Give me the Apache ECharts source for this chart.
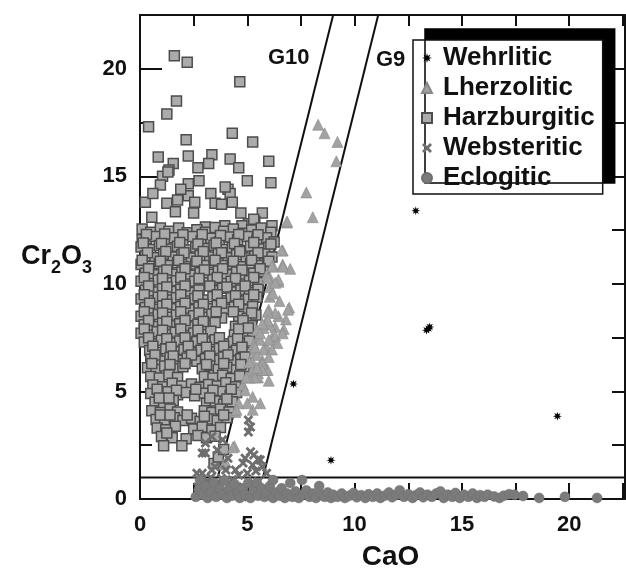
<!DOCTYPE html>
<html>
<head>
<meta charset="utf-8">
<script src="https://cdn.jsdelivr.net/npm/echarts@6/dist/echarts.min.js"></script>
<style>
  html, body { margin: 0; padding: 0; background: #fff; }
  #garnet { width: 626px; height: 570px; }
</style>
</head>
<body>
<div id="garnet"></div>
<script>
var FONT = '"Liberation Sans", Arial, sans-serif';

// CaO (wt%), Cr2O3 (wt%)
var wehrlitic = [[7.15, 5.35], [8.9, 1.8], [13.35, 7.85], [13.5, 8.0], [13.45, 7.92], [19.45, 3.85], [12.85, 13.4]];

var lherzolitic = [
  [8.3, 17.4], [8.6, 17.0], [9.2, 16.6], [9.15, 15.7], [7.75, 14.25], [8.05, 13.1], [6.85, 12.85],
  [6.65, 11.55], [6.65, 10.9], [7.0, 10.7], [6.2, 10.85], [6.45, 10.1], [6.05, 10.3], [6.95, 8.9],
  [6.8, 8.35], [6.45, 8.5], [6.7, 7.9], [6.3, 8.0], [6.05, 9.4], [6.0, 8.8], [5.85, 8.2], [6.15, 7.5],
  [6.4, 7.25], [5.9, 7.05], [5.5, 7.5], [5.7, 6.45], [5.3, 6.8], [5.85, 6.0], [5.5, 5.85], [5.15, 5.65],
  [6.0, 5.5], [4.8, 5.3], [4.9, 5.05], [5.6, 4.45], [5.25, 4.75], [4.6, 4.45], [4.45, 4.05], [5.25, 4.15],
  [5.5, 5.65], [5.95, 6.0], [4.4, 2.45], [3.9, 1.6], [5.0, 4.45], [4.5, 4.15], [4.0, 1.7], [4.33, 2.4],
  [6.45, 10.2], [6.05, 9.85], [6.9, 8.8], [6.3, 8.65], [5.95, 8.7], [6.05, 8.1], [5.75, 7.95], [5.45, 7.85],
  [6.3, 7.6], [6.65, 7.7], [6.0, 7.4], [5.6, 7.4], [5.3, 7.2], [5.75, 6.95], [6.15, 6.95], [5.45, 6.7],
  [6.0, 6.6], [5.25, 6.35], [5.7, 6.3], [5.25, 6.0], [5.7, 6.0], [5.35, 5.65], [5.05, 5.65],
  [6.85, 12.9], [6.6, 11.55], [6.65, 10.8], [6.15, 10.8], [5.9, 10.4], [5.95, 10.25], [6.3, 10.05],
  [6.5, 9.2], [6.2, 9.55], [5.95, 8.3], [5.7, 8.15], [5.6, 7.7], [5.35, 7.05], [5.45, 6.1], [5.1, 6.35],
  [4.95, 5.65]
];

var harzburgitic = [
  [1.6, 20.6], [2.2, 20.3], [4.65, 19.4], [1.7, 18.5], [1.25, 17.9], [0.4, 17.3], [2.15, 16.7], [4.3, 17.0],
  [5.25, 16.6], [0.85, 15.9], [1.55, 15.6], [2.25, 15.95], [3.35, 16.0], [2.7, 15.4], [3.2, 15.6], [4.2, 15.8],
  [4.6, 15.4], [6.0, 15.7], [1.35, 15.3], [1.05, 15.0], [6.1, 14.7], [5.0, 14.8], [2.75, 14.8], [2.25, 14.65],
  [0.95, 14.6], [1.3, 15.2], [3.3, 14.2], [4.1, 14.4], [4.2, 14.2], [3.97, 14.5], [0.25, 13.8], [1.25, 13.75],
  [1.75, 13.9], [2.25, 14.1], [2.55, 13.8], [3.5, 13.75], [3.8, 13.7], [4.3, 13.8], [5.7, 13.3], [5.05, 12.8],
  [5.35, 12.9], [6.15, 12.7], [4.75, 12.7], [3.95, 12.7], [3.05, 12.65], [2.5, 13.3], [1.65, 13.35], [0.55, 13.1],
  [0.1, 12.05], [5.3, 13.0], [4.7, 13.3], [0.6, 14.2], [1.9, 14.4],
  [0.1, 12.55], [0.5, 12.4], [0.95, 12.6], [1.35, 12.45], [1.8, 12.6], [2.2, 12.38], [2.65, 12.52], [3.05, 12.4],
  [3.5, 12.62], [3.9, 12.45], [4.35, 12.55], [4.8, 12.35], [5.2, 12.5], [5.65, 12.6], [6.1, 12.4],
  [0.3, 12.1], [0.7, 12.2], [1.15, 11.98], [1.6, 12.15], [2.0, 12.02], [2.45, 12.2], [2.85, 12.0], [3.3, 12.12],
  [3.7, 11.95], [4.15, 12.18], [4.55, 12.05], [5.0, 12.2], [5.45, 12.0], [5.9, 12.15], [6.25, 11.95],
  [0.05, 11.72], [0.5, 11.6], [0.9, 11.78], [1.35, 11.62], [1.75, 11.75], [2.2, 11.58], [2.6, 11.72], [3.05, 11.65],
  [3.45, 11.8], [3.9, 11.6], [4.3, 11.7], [4.75, 11.55], [5.15, 11.75], [5.6, 11.62], [6.0, 11.7],
  [0.25, 11.3], [0.7, 11.22], [1.1, 11.38], [1.55, 11.25], [1.95, 11.35], [2.4, 11.2], [2.8, 11.32], [3.25, 11.25],
  [3.65, 11.4], [4.1, 11.22], [4.5, 11.35], [4.95, 11.2], [5.35, 11.3], [5.8, 11.4], [6.15, 11.25],
  [0.05, 10.9], [0.45, 10.82], [0.9, 10.95], [1.3, 10.85], [1.75, 10.98], [2.15, 10.8], [2.6, 10.92], [3.0, 10.85],
  [3.45, 11.0], [3.85, 10.85], [4.3, 10.92], [4.7, 10.8], [5.15, 10.95], [5.55, 10.85], [5.95, 10.9],
  [0.25, 10.5], [0.65, 10.42], [1.1, 10.58], [1.5, 10.45], [1.95, 10.55], [2.35, 10.4], [2.8, 10.52], [3.2, 10.45],
  [3.65, 10.6], [4.05, 10.42], [4.5, 10.55], [4.9, 10.4], [5.3, 10.5], [5.75, 10.58],
  [0.05, 10.12], [0.45, 10.02], [0.85, 10.18], [1.3, 10.05], [1.7, 10.15], [2.15, 10.0], [2.55, 10.12], [3.0, 10.05],
  [3.4, 10.2], [3.85, 10.02], [4.25, 10.12], [4.7, 10.0], [5.1, 10.15], [5.5, 10.05],
  [0.25, 9.7], [0.65, 9.62], [1.05, 9.78], [1.5, 9.65], [1.9, 9.75], [2.35, 9.6], [2.75, 9.72], [3.45, 9.68],
  [3.85, 9.8], [4.3, 9.62], [4.7, 9.72], [5.1, 9.6], [5.5, 9.75],
  [0.05, 9.3], [0.45, 9.22], [0.85, 9.38], [1.3, 9.25], [1.7, 9.35], [2.1, 9.2], [2.55, 9.32], [2.95, 9.25],
  [3.4, 9.4], [3.8, 9.22], [4.25, 9.35], [4.65, 9.2], [5.05, 9.3], [5.45, 9.38],
  [0.25, 8.9], [0.65, 8.82], [1.05, 8.98], [1.5, 8.85], [1.9, 8.95], [2.3, 8.8], [2.75, 8.92], [3.15, 8.85],
  [3.6, 9.0], [4.0, 8.82], [4.4, 8.92], [4.85, 8.8], [5.25, 8.95],
  [0.05, 8.5], [0.45, 8.42], [0.85, 8.58], [1.25, 8.45], [1.7, 8.55], [2.1, 8.4], [2.5, 8.52], [2.95, 8.45],
  [3.35, 8.6], [3.8, 8.42], [4.6, 8.5], [5.0, 8.4], [5.4, 8.55],
  [0.2, 8.1], [0.6, 8.02], [1.05, 8.18], [1.45, 8.05], [1.85, 8.15], [2.3, 8.0], [2.7, 8.12], [3.1, 8.05],
  [3.5, 8.2], [4.45, 8.02], [4.8, 8.15], [5.2, 8.05],
  [0.05, 7.7], [0.4, 7.62], [0.8, 7.78], [1.25, 7.65], [1.65, 7.75], [2.05, 7.6], [2.5, 7.72], [2.9, 7.65],
  [3.3, 7.8], [4.4, 7.62], [4.95, 7.72], [5.25, 7.6],
  [0.2, 7.3], [0.6, 7.22], [1.0, 7.38], [1.45, 7.25], [1.85, 7.35], [2.25, 7.2], [2.65, 7.32], [3.05, 7.25],
  [3.5, 7.4], [3.9, 7.22], [4.35, 7.32], [4.75, 7.2], [5.1, 7.35],
  [0.45, 6.9], [0.8, 6.82], [1.2, 6.98], [1.65, 6.85], [2.05, 6.95], [2.45, 6.8], [2.85, 6.92], [3.3, 6.85],
  [3.7, 7.0], [4.1, 6.82], [4.5, 6.92], [4.95, 6.8],
  [0.5, 6.5], [0.95, 6.42], [1.4, 6.58], [1.8, 6.45], [2.2, 6.55], [2.65, 6.4], [3.05, 6.52], [3.45, 6.45],
  [3.9, 6.6], [4.3, 6.42], [4.7, 6.52],
  [0.35, 6.1], [0.75, 6.02], [1.15, 6.18], [1.6, 6.05], [2.0, 6.15], [2.9, 6.05], [3.25, 6.2], [3.65, 6.02],
  [4.05, 6.12], [4.5, 6.0], [4.85, 6.15],
  [0.5, 5.7], [0.9, 5.62], [1.35, 5.78], [1.75, 5.65], [3.0, 5.7], [3.4, 5.62], [3.85, 5.75], [4.25, 5.6], [4.65, 5.72],
  [0.6, 5.3], [1.05, 5.22], [1.5, 5.38], [1.95, 5.25], [2.4, 5.35], [2.8, 5.2], [3.2, 5.32], [3.6, 5.25],
  [4.0, 5.4], [4.45, 5.22],
  [0.5, 4.9], [0.9, 4.82], [1.3, 4.98], [1.75, 4.85], [2.15, 4.95], [2.55, 4.8], [3.0, 4.92], [3.4, 4.85],
  [3.8, 5.0], [4.2, 4.82], [4.5, 4.95],
  [0.7, 4.5], [1.1, 4.42], [1.55, 4.58], [3.1, 4.45], [3.5, 4.55], [3.9, 4.4], [4.3, 4.52],
  [0.55, 4.1], [0.95, 4.02], [1.4, 4.18], [1.75, 4.05], [3.0, 4.1], [3.35, 4.02], [3.75, 4.18], [4.15, 4.05],
  [0.75, 3.7], [1.15, 3.62], [1.6, 3.78], [2.0, 3.65], [2.4, 3.75], [2.8, 3.6], [3.2, 3.72], [3.6, 3.65], [4.05, 3.78],
  [0.8, 3.3], [1.2, 3.22], [1.65, 3.38], [2.5, 3.25], [2.9, 3.35], [3.35, 3.2], [3.75, 3.32],
  [1.0, 2.9], [1.5, 2.85], [2.15, 2.8], [2.7, 2.95], [3.1, 2.85], [3.5, 2.92],
  [1.1, 2.47], [1.95, 2.47], [1.25, 3.07], [3.45, 1.65], [3.65, 1.95], [3.9, 2.3],
  // in-between points of the dense core
  [0.3, 12.3], [1.15, 12.32], [2.0, 12.28], [2.9, 12.3], [3.75, 12.25], [4.6, 12.3], [5.5, 12.28],
  [0.15, 11.9], [1.0, 11.88], [1.85, 11.92], [2.7, 11.85], [3.55, 11.9], [4.4, 11.88], [5.3, 11.92], [6.1, 11.85],
  [0.35, 11.45], [1.2, 11.5], [2.05, 11.45], [2.95, 11.5], [3.8, 11.45], [4.65, 11.5], [5.5, 11.45],
  [0.1, 11.1], [0.95, 11.05], [1.8, 11.1], [2.65, 11.05], [3.5, 11.1], [4.35, 11.05], [5.2, 11.1], [6.0, 11.05],
  [0.4, 10.7], [1.25, 10.65], [2.1, 10.7], [3.0, 10.65], [3.85, 10.7], [4.75, 10.65], [5.6, 10.7],
  [0.2, 10.3], [1.05, 10.25], [1.9, 10.3], [2.75, 10.25], [3.6, 10.3], [4.45, 10.25], [5.3, 10.3],
  [0.4, 9.9], [1.25, 9.85], [2.1, 9.9], [3.25, 9.9], [4.05, 9.85], [4.9, 9.9],
  [0.2, 9.5], [1.05, 9.45], [1.9, 9.5], [2.7, 9.45], [3.6, 9.5], [4.45, 9.45], [5.3, 9.5],
  [0.45, 9.1], [1.25, 9.05], [2.1, 9.1], [2.95, 9.05], [3.8, 9.1], [4.6, 9.05],
  [0.2, 8.7], [1.05, 8.65], [1.9, 8.7], [2.75, 8.65], [3.55, 8.7], [4.35, 8.7], [5.2, 8.65],
  [0.4, 8.3], [1.25, 8.25], [2.1, 8.3], [2.95, 8.25], [4.8, 8.3],
  [0.2, 7.9], [1.05, 7.85], [1.9, 7.9], [2.7, 7.85], [4.6, 7.9], [5.05, 7.95],
  [0.4, 7.5], [1.25, 7.45], [2.1, 7.5], [2.9, 7.45], [3.7, 7.5], [4.55, 7.45],
  [0.6, 7.1], [1.45, 7.05], [2.25, 7.1], [3.1, 7.05], [3.9, 7.1], [4.75, 7.05],
  [0.7, 6.7], [1.55, 6.65], [2.4, 6.7], [3.25, 6.65], [4.1, 6.7], [4.9, 6.6],
  [0.55, 6.3], [1.4, 6.25], [2.1, 6.3], [3.1, 6.25], [3.9, 6.3], [4.7, 6.25],
  [0.8, 5.1], [1.7, 5.05], [2.6, 5.1], [3.4, 5.05], [4.25, 5.1],
  [0.9, 4.7], [1.35, 4.7], [3.25, 4.7], [4.05, 4.65],
  [0.95, 3.9], [1.4, 3.9], [2.2, 3.9], [3.0, 3.85], [3.9, 3.9]
];

var websteritic = [
  [5.05, 3.67], [5.05, 3.12], [5.15, 3.35], [3.05, 2.14], [3.05, 2.6], [3.85, 2.75], [3.35, 2.9], [5.15, 2.2],
  [5.3, 2.05], [4.9, 1.9], [5.5, 1.85], [4.8, 1.67], [5.25, 1.58], [5.7, 1.5], [2.9, 1.2], [3.5, 1.5],
  [3.35, 1.35], [4.0, 1.35], [4.45, 1.35], [2.7, 0.56], [4.8, 0.56], [4.3, 0.9], [3.2, 0.74], [5.05, 0.1],
  [3.6, 2.28], [2.65, 1.2], [2.9, 2.14], [5.6, 1.81], [5.4, 1.3], [4.6, 1.1], [3.8, 0.95], [2.85, 0.85],
  [5.9, 1.2], [3.3, 1.0], [4.1, 1.9], [5.0, 1.2], [3.6, 0.6], [4.3, 0.3], [2.8, 0.3], [5.5, 0.8]
];

var eclogitic = [
  [2.6, 0.1], [2.75, 0.45], [2.8, 0.88], [2.9, 0.2], [3.05, 0.6], [3.15, 0.05], [3.3, 0.35], [3.45, 0.75],
  [3.55, 0.1], [3.7, 0.5], [3.85, 0.2], [3.95, 0.85], [4.05, 0.05], [4.15, 0.45], [4.3, 0.15], [4.4, 0.7],
  [4.55, 0.3], [4.65, 0.05], [4.8, 0.5], [4.9, 0.2], [5.05, 0.75], [5.15, 0.05], [5.3, 0.4], [5.45, 0.74],
  [5.5, 0.15], [5.65, 0.5], [5.8, 0.1], [5.9, 0.3], [6.05, 0.6], [6.2, 0.88], [6.2, 0.05], [6.35, 0.3],
  [6.5, 0.15], [6.6, 0.5], [6.75, 0.05], [6.85, 0.25], [7.0, 0.74], [7.1, 0.1], [7.25, 0.35], [7.4, 0.05],
  [7.55, 0.88], [7.6, 0.2], [7.75, 0.4], [7.9, 0.1], [8.05, 0.25], [8.2, 0.05], [8.35, 0.6], [8.45, 0.2],
  [8.6, 0.1], [8.75, 0.3], [8.9, 0.05], [9.0, 0.2], [9.2, 0.1], [9.4, 0.25], [9.55, 0.05], [9.75, 0.15],
  [9.95, 0.28], [10.1, 0.08], [10.3, 0.18], [10.5, 0.05], [10.65, 0.22], [10.85, 0.1], [11.05, 0.25],
  [11.2, 0.05], [11.4, 0.15], [11.6, 0.3], [11.75, 0.08], [11.95, 0.2], [12.1, 0.4], [12.3, 0.1],
  [12.5, 0.22], [12.7, 0.05], [12.85, 0.18], [13.05, 0.3], [13.2, 0.08], [13.4, 0.2], [13.6, 0.1],
  [13.8, 0.25], [14.0, 0.35], [14.15, 0.05], [14.35, 0.2], [14.55, 0.1], [14.7, 0.28], [14.9, 0.05],
  [15.1, 0.2], [15.3, 0.1], [15.5, 0.25], [15.7, 0.05], [15.85, 0.18], [16.05, 0.1], [16.2, 0.2],
  [16.5, 0.12], [16.75, 0.05], [16.95, 0.15], [17.2, 0.22], [17.45, 0.2], [17.85, 0.14], [18.6, 0.05],
  [19.8, 0.1], [21.3, 0.05]
];

// G10 / G9 divider lines and the 1 wt% Cr2O3 line
var g10Line = [[3.625, 1], [9.0, 22.5]];
var g9Line = [[5.73, 1], [11.1, 22.5]];
var crLimit = [[0, 1], [22.6, 1]];

var X_MAX = 22.6, Y_MAX = 22.5;

var chart = echarts.init(document.getElementById('garnet'), null, { renderer: 'canvas' });

var axisLine = { show: true, onZero: false, lineStyle: { color: '#111', width: 2 } };
function tick(len) { return { show: true, inside: true, length: len, lineStyle: { color: '#111', width: 2 } }; }
var labelStyle = { fontSize: 22, fontWeight: 'bold', color: '#111', fontFamily: FONT };
function onlyFives(v) { return v % 5 === 0 ? String(v) : ''; }

function lineSeries(name, data) {
  return {
    name: name, type: 'line', data: data, symbol: 'none', z: 1, silent: true,
    lineStyle: { color: '#111', width: 2 }
  };
}

var option = {
  animation: false,
  backgroundColor: '#fff',
  grid: { left: 140, right: 1, top: 15, bottom: 71, containLabel: false, outerBoundsMode: 'none' },
  xAxis: [{
    type: 'value', position: 'bottom', min: 0, max: X_MAX, interval: 5,
    axisLine: axisLine, axisTick: tick(16),
    minorTick: { show: true, splitNumber: 2, length: 16, lineStyle: { color: '#111', width: 2 } },
    splitLine: { show: false },
    axisLabel: Object.assign({ margin: 15, formatter: onlyFives, showMaxLabel: false }, labelStyle),
    name: 'CaO', nameLocation: 'middle', nameGap: 44,
    nameTextStyle: { fontSize: 28, fontWeight: 'bold', color: '#111', fontFamily: FONT, padding: [0, 0, 0, 16] }
  }, {
    type: 'value', position: 'top', min: 0, max: X_MAX, interval: 2.5,
    axisLine: axisLine, axisTick: tick(11), axisLabel: { show: false }, splitLine: { show: false }
  }],
  yAxis: [{
    type: 'value', position: 'left', min: 0, max: Y_MAX, interval: 5,
    axisLine: axisLine, axisTick: tick(22),
    minorTick: { show: true, splitNumber: 2, length: 12, lineStyle: { color: '#111', width: 2 } },
    splitLine: { show: false },
    axisLabel: Object.assign({ margin: 13, formatter: onlyFives, showMaxLabel: false }, labelStyle),
    name: '{a|Cr}{s|2}{a|O}{s|3}', nameLocation: 'middle', nameRotate: 0, nameGap: 48,
    nameTextStyle: {
      rich: {
        a: { fontSize: 27, fontWeight: 'bold', color: '#111', fontFamily: FONT, lineHeight: 30 },
        s: { fontSize: 18, fontWeight: 'bold', color: '#111', fontFamily: FONT, lineHeight: 30, padding: [22, 0, 0, 0] }
      }
    }
  }, {
    type: 'value', position: 'right', min: 0, max: Y_MAX, interval: 2.5,
    axisLine: axisLine, axisTick: tick(13), axisLabel: { show: false }, splitLine: { show: false }
  }],
  legend: {
    orient: 'vertical', left: 413, top: 40,
    data: ['Wehrlitic', 'Lherzolitic', 'Harzburgitic', 'Websteritic', 'Eclogitic'],
    itemWidth: 10, itemHeight: 10, itemGap: 4,
    padding: [5, 8, 3, 8],
    backgroundColor: '#fff', borderColor: '#111', borderWidth: 1.5, borderRadius: 0,
    shadowColor: '#000', shadowBlur: 0, shadowOffsetX: 12, shadowOffsetY: -11,
    textStyle: { fontSize: 26, fontWeight: 'bold', color: '#111', fontFamily: FONT, lineHeight: 25, padding: [0, 0, 0, 6] }
  },
  graphic: [
    { type: 'text', left: 268, top: 47, style: { text: 'G10', fontSize: 22, fontWeight: 'bold', fill: '#111', fontFamily: FONT } },
    { type: 'text', left: 376, top: 49, style: { text: 'G9', fontSize: 22, fontWeight: 'bold', fill: '#111', fontFamily: FONT } }
  ],
  series: [
    lineSeries('G10', g10Line),
    lineSeries('G9', g9Line),
    lineSeries('limit', crLimit),
    {
      name: 'Harzburgitic', type: 'scatter', data: harzburgitic, symbol: 'rect', symbolSize: 10, z: 2,
      itemStyle: { color: '#ababab', borderColor: '#4d4d4d', borderWidth: 1.5, opacity: 1 }
    },
    {
      name: 'Lherzolitic', type: 'scatter', data: lherzolitic, symbol: 'triangle', symbolSize: 11, z: 3,
      itemStyle: { color: '#a2a2a2', borderColor: '#888', borderWidth: 0.6, opacity: 1 }
    },
    {
      name: 'Websteritic', type: 'scatter', data: websteritic, z: 4,
      symbol: 'path://M0,2 L2,0 L5,3 L8,0 L10,2 L7,5 L10,8 L8,10 L5,7 L2,10 L0,8 L3,5 Z', symbolSize: 10,
      itemStyle: { color: '#6e6e6e', opacity: 1 }
    },
    {
      name: 'Eclogitic', type: 'scatter', data: eclogitic, symbol: 'circle', symbolSize: 10, z: 5,
      itemStyle: { color: '#7b7b7b', borderColor: '#6e6e6e', borderWidth: 0.5, opacity: 1 }
    },
    {
      name: 'Wehrlitic', type: 'scatter', data: wehrlitic, z: 6,
      symbol: 'path://M10,5 L7.03,5.84 L8.54,8.54 L5.84,7.03 L5,10 L4.16,7.03 L1.46,8.54 L2.97,5.84 L0,5 L2.97,4.16 L1.46,1.46 L4.16,2.97 L5,0 L5.84,2.97 L8.54,1.46 L7.03,4.16 Z',
      symbolSize: 9,
      itemStyle: { color: '#000', opacity: 1 }
    }
  ]
};

chart.setOption(option);
</script>
</body>
</html>
